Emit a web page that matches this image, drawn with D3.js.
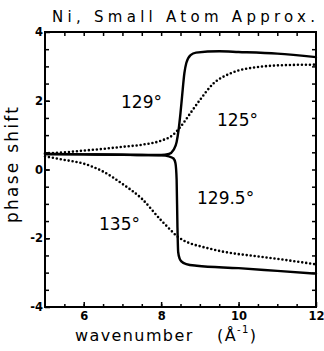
<!DOCTYPE html>
<html lang="en">
<head>
    <title>Ni, Small Atom Approx.</title>
    <script src="https://d3js.org/d3.v7.min.js"></script>
    <style>
        body { margin: 0; background: #fff; }
        text { font-family: "DejaVu Sans", sans-serif; fill: #000; }
    </style>
</head>
<body>
    <div id="chart"></div>

    <script>
        // Data: wavenumber (1/Angstrom) and phase shift
        const title = "Ni,  Small  Atom  Approx.";

        const k129 = [5, 6, 7, 7.5, 8, 8.2, 8.32, 8.4, 8.45, 8.5, 8.54, 8.6, 8.65, 8.76, 8.9, 9.5, 10, 11, 12];
        const phi129 = [0.45, 0.44, 0.43, 0.42, 0.42, 0.45, 0.57, 0.8, 1.15, 1.65, 2.12, 2.8, 3.1, 3.33, 3.4, 3.44, 3.42, 3.37, 3.27];

        const k1295 = [5, 6, 7, 7.5, 8, 8.2, 8.32, 8.37, 8.4, 8.42, 8.44, 8.48, 8.53, 8.65, 8.92, 10, 11, 12];
        const phi1295 = [0.45, 0.44, 0.43, 0.42, 0.41, 0.38, 0.32, 0.18, -0.3, -1.6, -2.4, -2.6, -2.68, -2.75, -2.8, -2.87, -2.95, -3.03];

        const k125 = [5, 5.5, 6, 6.5, 7, 7.5, 8, 8.3, 8.5, 8.75, 9, 9.35, 9.8, 10.5, 11.3, 12];
        const phi125 = [0.47, 0.5, 0.55, 0.6, 0.66, 0.72, 0.84, 1.0, 1.24, 1.63, 2.02, 2.5, 2.8, 2.98, 3.04, 3.05];

        const k135 = [5, 5.5, 6, 6.5, 7, 7.5, 8, 8.2, 8.4, 8.75, 9, 9.6, 10.5, 11.2, 12];
        const phi135 = [0.38, 0.28, 0.17, -0.06, -0.42, -0.85, -1.48, -1.71, -1.93, -2.15, -2.23, -2.39, -2.53, -2.63, -2.76];

        const curveNames = ["129°", "125°", "129.5°", "135°"];
        const xTicks = [6, 8, 10, 12];
        const yTicks = [-4, -2, 0, 2, 4];

        const width = 324, height = 351;
        const mLeft = 45, mRight = 316, mTop = 32, mBottom = 307;

        const svg = d3.select("#chart").append("svg")
            .attr("width", width)
            .attr("height", height);

        const x = d3.scaleLinear().domain([5, 12]).range([mLeft, mRight]);
        const y = d3.scaleLinear().domain([-4, 4]).range([mBottom, mTop]);

        const minorX = d3.range(5.5, 12, 0.5);
        const minorY = d3.range(-3.5, 4, 0.5);

        // axes with inward ticks on all four sides
        function styleAxis(g) {
            g.select(".domain").remove();
            g.selectAll("line").attr("stroke", "#000").attr("stroke-width", 1.5);
            g.selectAll("text").attr("font-size", 11.5).attr("font-weight", "bold")
                .style("font-family", "DejaVu Sans, sans-serif");
        }

        svg.append("g").attr("transform", `translate(0,${mBottom})`)
            .call(d3.axisBottom(x).tickValues(minorX).tickSize(-3).tickFormat(""))
            .call(styleAxis);
        svg.append("g").attr("transform", `translate(0,${mBottom})`)
            .call(d3.axisBottom(x).tickValues(xTicks).tickSize(-5).tickPadding(5).tickFormat(d => String(d)))
            .call(styleAxis);
        svg.append("g").attr("transform", `translate(0,${mTop})`)
            .call(d3.axisTop(x).tickValues(minorX).tickSize(-4).tickFormat(""))
            .call(styleAxis);

        svg.append("g").attr("transform", `translate(${mLeft},0)`)
            .call(d3.axisLeft(y).tickValues(minorY).tickSize(-4).tickFormat(""))
            .call(styleAxis);
        svg.append("g").attr("transform", `translate(${mLeft},0)`)
            .call(d3.axisLeft(y).tickValues(yTicks).tickSize(-5).tickPadding(2).tickFormat(d => String(d)))
            .call(styleAxis);
        svg.append("g").attr("transform", `translate(${mRight},0)`)
            .call(d3.axisRight(y).tickValues(minorY).tickSize(-4).tickFormat(""))
            .call(styleAxis);

        // frame
        svg.append("rect")
            .attr("x", mLeft).attr("y", mTop)
            .attr("width", mRight - mLeft).attr("height", mBottom - mTop)
            .attr("fill", "none").attr("stroke", "#000").attr("stroke-width", 2);

        const line = d3.line()
            .x(d => x(d[0]))
            .y(d => y(d[1]))
            .curve(d3.curveMonotoneX);

        const series = [
            { k: k129, phi: phi129, dotted: false },
            { k: k125, phi: phi125, dotted: true },
            { k: k1295, phi: phi1295, dotted: false },
            { k: k135, phi: phi135, dotted: true }
        ];

        series.forEach(s => {
            const pts = s.k.map((v, i) => [v, s.phi[i]]);
            svg.append("path")
                .datum(pts)
                .attr("d", line)
                .attr("fill", "none")
                .attr("stroke", "#000")
                .attr("stroke-width", s.dotted ? 2.6 : 2.4)
                .attr("stroke-linecap", "round")
                .attr("stroke-dasharray", s.dotted ? "0,4" : null);
        });

        // curve labels
        const labelPos = [[121, 108], [217, 126], [197, 204], [99, 230]];
        curveNames.forEach((n, i) => {
            svg.append("text")
                .attr("x", labelPos[i][0])
                .attr("y", labelPos[i][1])
                .attr("font-size", 17)
                .text(n);
        });

        // title
        svg.append("text")
            .attr("x", 52).attr("y", 22)
            .attr("font-size", 15)
            .attr("textLength", 263)
            .attr("lengthAdjust", "spacing")
            .text(title);

        // x axis title
        const xl = svg.append("text")
            .attr("x", 75).attr("y", 341)
            .attr("font-size", 16)
            .attr("letter-spacing", 1.4);
        xl.append("tspan").text("wavenumber");
        xl.append("tspan").attr("x", 217).text("(Å");
        xl.append("tspan").attr("font-size", 10).attr("dy", -8).text("-1");
        xl.append("tspan").attr("dy", 8).text(")");

        // y axis title
        svg.append("text")
            .attr("transform", "translate(18,165) rotate(-90)")
            .attr("text-anchor", "middle")
            .attr("font-size", 17)
            .attr("textLength", 116)
            .attr("lengthAdjust", "spacing")
            .text("phase  shift");
    </script>
</body>
</html>
